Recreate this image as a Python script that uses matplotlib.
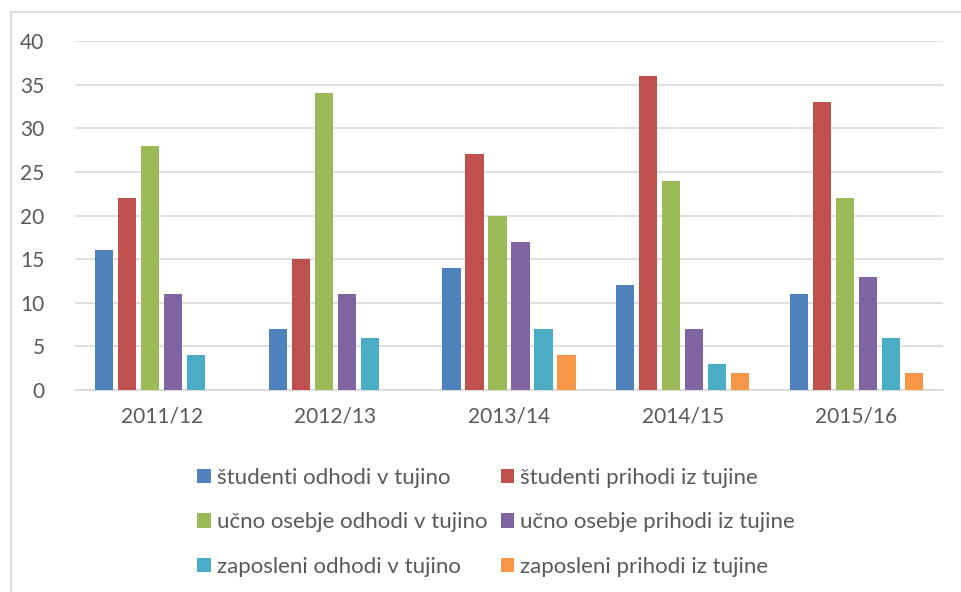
import matplotlib
matplotlib.use("Agg")
import matplotlib.pyplot as plt
import numpy as np
from matplotlib.patches import Rectangle, Patch

categories = ["2011/12", "2012/13", "2013/14", "2014/15", "2015/16"]
series_names = [
    "študenti odhodi v tujino",
    "študenti prihodi iz tujine",
    "učno osebje odhodi v tujino",
    "učno osebje prihodi iz tujine",
    "zaposleni odhodi v tujino",
    "zaposleni prihodi iz tujine",
]
studenti_odhodi = [16, 7, 14, 12, 11]
studenti_prihodi = [22, 15, 27, 36, 33]
osebje_odhodi = [28, 34, 20, 24, 22]
osebje_prihodi = [11, 11, 17, 7, 13]
zaposleni_odhodi = [4, 6, 7, 3, 6]
zaposleni_prihodi = [0, 0, 4, 2, 2]
series = [studenti_odhodi, studenti_prihodi, osebje_odhodi,
          osebje_prihodi, zaposleni_odhodi, zaposleni_prihodi]
colors = ["#4F81BD", "#C0504D", "#9BBB59", "#8064A2", "#4BACC6", "#F79646"]

plt.rcParams['font.family'] = ['Lato', 'DejaVu Sans']
W, H = 961, 592
fig = plt.figure(figsize=(W / 100, H / 100), dpi=100)
ax = fig.add_axes([75 / W, (H - 390) / H, (943 - 75) / W, (390 - 41) / H])

x = np.arange(len(categories))
slot = 0.1325
width = 0.104
handles = []
for i, (vals, c) in enumerate(zip(series, colors)):
    offs = (i - 2.5) * slot
    ax.bar(x + offs, vals, width, color=c, zorder=3)
    handles.append(Patch(facecolor=c, label=series_names[i]))

ax.set_xlim(-0.5, len(categories) - 0.5)
ax.set_ylim(0, 40)
ax.set_yticks(range(0, 41, 5))
ax.set_xticks(x)
ax.set_xticklabels(categories)
ax.grid(axis='y', color='#d9d9d9', linewidth=1.2, zorder=0)
for s in ['top', 'right', 'left']:
    ax.spines[s].set_visible(False)
ax.spines['bottom'].set_color('#d9d9d9')
ax.spines['bottom'].set_linewidth(1.2)
ax.tick_params(axis='both', length=0, labelsize=15, labelcolor='#595959')
ax.tick_params(axis='y', pad=22)
ax.tick_params(axis='x', pad=12)

order = [0, 2, 4, 1, 3, 5]
fig.legend([handles[i] for i in order], [series_names[i] for i in order],
           ncol=2, loc='upper left', bbox_to_anchor=(197 / W, 1 - 468 / H),
           frameon=False, fontsize=16, labelcolor='#595959',
           handlelength=0.62, handleheight=0.62, handletextpad=0.27,
           columnspacing=0.6, labelspacing=1.1, borderaxespad=0, borderpad=0)

fig.patches.append(Rectangle((11 / W, -0.1), 1.2, 1 - 12 / H + 0.1,
                             transform=fig.transFigure, fill=False,
                             edgecolor='#d9d9d9', linewidth=1.2))

fig.savefig("out.png", dpi=100)
